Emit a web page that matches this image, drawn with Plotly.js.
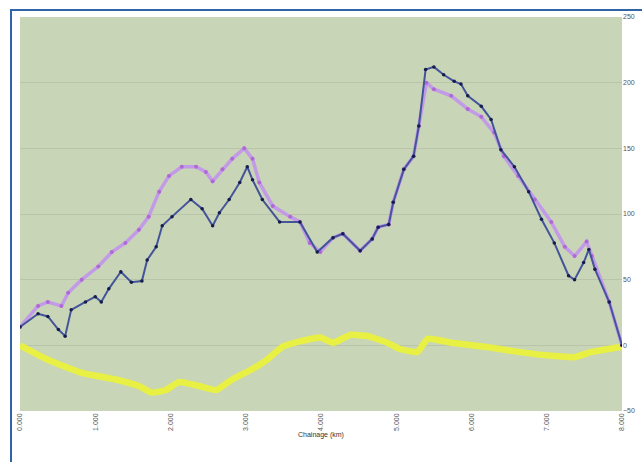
<!DOCTYPE html>
<html>
<head>
<meta charset="utf-8">
<script src="https://cdn.plot.ly/plotly-3.0.1.min.js"></script>
<style>
  html, body { margin: 0; padding: 0; background: #ffffff; }
  #wrap { position: relative; width: 642px; height: 462px; overflow: hidden; }
  #frame { position: absolute; left: 10px; top: 9px; width: 700px; height: 500px;
           border-left: 2px solid #2f64a8; border-top: 2px solid #2f64a8; pointer-events: none; }
  #chart { position: absolute; left: 0; top: 0; width: 642px; height: 462px; }
</style>
</head>
<body>
<div id="wrap">
  <div id="chart"></div>
  <div id="frame"></div>
</div>
<script>
// Chainage positions (km) and profile values for each run
const darkX = [0, 0.24, 0.37, 0.51, 0.60, 0.68, 0.87, 1.00, 1.08, 1.18, 1.34, 1.48, 1.62, 1.69, 1.81, 1.89,
  2.02, 2.27, 2.42, 2.56, 2.65, 2.78, 2.92, 3.02, 3.09, 3.22, 3.45, 3.72, 3.95, 4.16, 4.29, 4.52,
  4.68, 4.76, 4.90, 4.96, 5.10, 5.23, 5.30, 5.39, 5.50, 5.63, 5.77, 5.86, 5.95, 6.13, 6.26, 6.39,
  6.57, 6.76, 6.93, 7.10, 7.29, 7.37, 7.49, 7.56, 7.64, 7.83, 8.00];
const darkY = [14, 24, 22, 12, 7, 27, 33, 37, 33, 43, 56, 48, 49, 65, 75, 91,
  98, 111, 104, 91, 101, 111, 124, 136, 126, 111, 94, 94, 71, 82, 85, 72,
  81, 90, 92, 109, 134, 144, 167, 210, 212, 206, 201, 199, 190, 182, 172, 149,
  136, 117, 96, 78, 53, 50, 63, 73, 58, 33, 0];

const violetX = [0, 0.24, 0.37, 0.55, 0.64, 0.82, 1.04, 1.22, 1.40, 1.58, 1.71, 1.85, 1.98, 2.15, 2.34, 2.47,
  2.56, 2.69, 2.82, 2.98, 3.09, 3.18, 3.36, 3.59, 3.72, 3.85, 3.99, 4.16, 4.29, 4.52, 4.68, 4.76,
  4.90, 4.96, 5.10, 5.23, 5.30, 5.40, 5.50, 5.73, 5.95, 6.13, 6.30, 6.43, 6.62, 6.84, 7.06, 7.24,
  7.37, 7.53, 7.60, 7.83, 8.00];
const violetY = [14, 30, 33, 30, 40, 50, 60, 71, 78, 88, 98, 117, 129, 136, 136, 132,
  125, 134, 142, 150, 142, 124, 106, 98, 94, 78, 71, 82, 85, 72, 81, 90,
  92, 109, 134, 144, 167, 200, 195, 190, 180, 174, 162, 144, 129, 111, 94, 75,
  68, 79, 68, 33, 0];

const yellowX = [0, 0.37, 0.82, 1.27, 1.58, 1.75, 1.94, 2.11, 2.38, 2.61, 2.82, 3.09, 3.28, 3.49, 3.72, 3.99,
  4.16, 4.39, 4.62, 4.88, 5.06, 5.28, 5.42, 5.73, 6.17, 6.62, 7.06, 7.37, 7.60, 8.00];
const yellowY = [0, -11, -21, -26, -31, -36, -34, -28, -31, -34, -26, -18, -11, -1, 3, 6,
  2, 8, 7, 2, -3, -5, 5, 2, -1, -5, -8, -9, -5, -1];

const xTickVals = [0, 1, 2, 3, 4, 5, 6, 7, 8];
const xTickText = ['0.000', '1.000', '2.000', '3.000', '4.000', '5.000', '6.000', '7.000', '8.000'];
const yTickVals = [-50, 0, 50, 100, 150, 200, 250];

const traces = [
  {
    x: yellowX, y: yellowY, type: 'scatter', mode: 'lines',
    line: { color: '#ecf23a', width: 6.5, shape: 'spline', smoothing: 0.4 }, opacity: 0.92
  },
  {
    x: violetX, y: violetY, type: 'scatter', mode: 'lines+markers',
    line: { color: '#c29ae8', width: 3.5 },
    marker: { color: '#b068d6', size: 4 }
  },
  {
    x: darkX, y: darkY, type: 'scatter', mode: 'lines+markers',
    line: { color: '#44549a', width: 2 },
    marker: { color: '#161d4c', size: 3.5 }
  }
];

const layout = {
  width: 642, height: 462,
  margin: { l: 20, r: 20, t: 17, b: 51 },
  paper_bgcolor: '#ffffff',
  plot_bgcolor: '#c9d5b7',
  showlegend: false,
  font: { family: 'Liberation Sans, Arial, sans-serif', size: 7, color: '#555555' },
  xaxis: {
    range: [0, 8], tickvals: xTickVals, ticktext: xTickText, tickangle: -90,
    showgrid: false, zeroline: false, showline: false, ticks: '',
    tickfont: { size: 7, color: '#555555' },
    title: { text: 'Chainage (km)', font: { size: 7, color: '#333333' }, standoff: 2 }
  },
  yaxis: {
    range: [-50, 250], tickvals: yTickVals, side: 'right',
    showgrid: true, gridcolor: '#bac4ab', gridwidth: 1,
    zeroline: false, showline: false, ticks: '',
    tickfont: { size: 7, color: '#555555' }
  }
};

Plotly.newPlot('chart', traces, layout, { staticPlot: true, displayModeBar: false });
</script>
</body>
</html>
